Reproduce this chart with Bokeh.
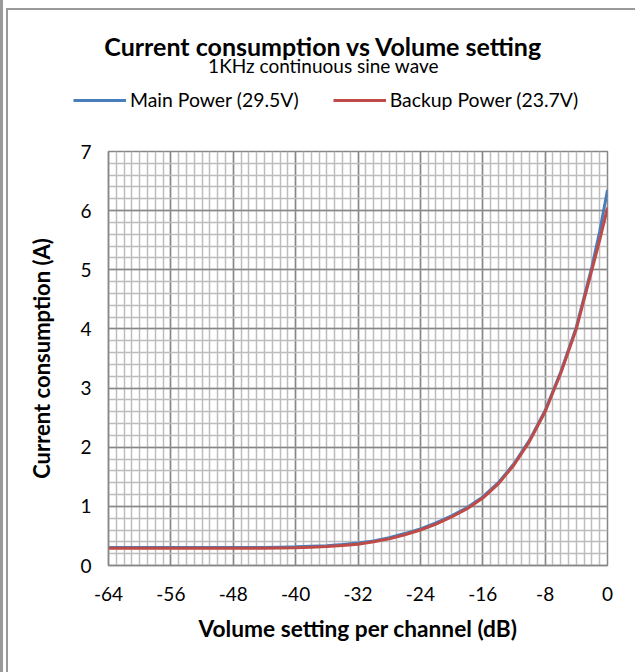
from bokeh.plotting import figure
from bokeh.models import (Range1d, SingleIntervalTicker, Label, Legend, LegendItem,
                          PrintfTickFormatter)
from bokeh.embed import file_html
from bokeh.resources import INLINE

# ---- data ----
volume_db = [-64, -62, -60, -58, -56, -54, -52, -50, -48, -46, -44, -42, -40,
             -38, -36, -34, -32, -30, -28, -26, -24, -22, -20, -18, -16, -14,
             -12, -10, -8, -6, -4, -2, -1, 0]
main_power_a = [0.305, 0.305, 0.305, 0.305, 0.305, 0.305, 0.305, 0.305, 0.305,
                0.305, 0.305, 0.31, 0.315, 0.325, 0.335, 0.355, 0.38, 0.415,
                0.47, 0.54, 0.62, 0.72, 0.84, 0.98, 1.16, 1.40, 1.72, 2.12,
                2.62, 3.27, 4.03, 5.05, 5.65, 6.35]
backup_power_a = [0.29, 0.29, 0.29, 0.29, 0.29, 0.29, 0.29, 0.29, 0.29, 0.29,
                  0.29, 0.295, 0.30, 0.31, 0.32, 0.34, 0.36, 0.40, 0.45, 0.52,
                  0.60, 0.70, 0.82, 0.96, 1.14, 1.38, 1.70, 2.10, 2.60, 3.25,
                  4.00, 5.00, 5.50, 6.05]
series_names = ["Main Power (29.5V)", "Backup Power (23.7V)"]
series_colors = ["#4a7ebb", "#be4b48"]
title_text = "Current consumption vs Volume setting"
subtitle_text = "1KHz continuous sine wave"
x_title = "Volume setting per channel (dB)"
y_title = "Current consumption (A)"

FONT = "Lato"
MAJOR = "#878787"
MINOR = "#bdbdbd"
FRAME_GRAY = "#9a9a9a"
W = 635
TOP_H = 139
MAIN_H = 672 - TOP_H

# ---- header figure: title, subtitle, legend (pixel-scaled ranges) ----
top = figure(width=W, height=TOP_H, output_backend="svg", toolbar_location=None,
             x_range=Range1d(0, W), y_range=Range1d(0, TOP_H),
             x_axis_location=None, y_axis_location=None,
             min_border=0, min_border_left=0, min_border_right=0,
             min_border_top=0, min_border_bottom=0)
top.grid.visible = False
top.outline_line_color = None
top.background_fill_alpha = 0
top.border_fill_alpha = 0
top.styles = {"box-shadow": f"inset 3px 0 0 0 {FRAME_GRAY}, inset 6px 8px 0 0 #ffffff, "
                            f"inset 8px 10px 0 0 {FRAME_GRAY}"}

top.add_layout(Label(x=323, y=94, text=title_text, text_font=FONT,
                     text_font_style="bold", text_font_size="25px",
                     text_align="center", text_baseline="middle",
                     text_color="#000000"))
top.add_layout(Label(x=323, y=74, text=subtitle_text, text_font=FONT,
                     text_font_size="19px", text_align="center",
                     text_baseline="middle", text_color="#000000"))

# legend keys: same series, hidden in the header (legend still draws their keys)
k_main = top.line(volume_db, main_power_a, line_color=series_colors[0],
                  line_width=3, visible=False)
k_backup = top.line(volume_db, backup_power_a, line_color=series_colors[1],
                    line_width=3, visible=False)
legend = Legend(items=[LegendItem(label=series_names[0], renderers=[k_main]),
                       LegendItem(label=series_names[1], renderers=[k_backup])],
                orientation="horizontal", location=(73, 28),
                glyph_width=53, glyph_height=20, label_height=20,
                label_standoff=4, spacing=34, padding=0, margin=0,
                border_line_color=None, background_fill_alpha=0,
                label_text_font=FONT, label_text_font_size="19.4px",
                label_text_color="#000000", click_policy="none")
top.add_layout(legend, "center")

# ---- main chart ----
p = figure(width=W, height=MAIN_H, output_backend="svg", toolbar_location=None,
           x_range=Range1d(-64, 0), y_range=Range1d(0, 7),
           min_border_left=108, min_border_right=28, min_border_top=12,
           min_border_bottom=107, background_fill_color="white",
           border_fill_alpha=0)
p.styles = {"box-shadow": f"inset 3px 0 0 0 {FRAME_GRAY}, inset 6px 0 0 0 #ffffff, "
                          f"inset 8px 0 0 0 {FRAME_GRAY}"}

p.xaxis.ticker = SingleIntervalTicker(interval=8, num_minor_ticks=8)
p.yaxis.ticker = SingleIntervalTicker(interval=1, num_minor_ticks=5)
p.xaxis.formatter = PrintfTickFormatter(format="%d")
p.yaxis.formatter = PrintfTickFormatter(format="%d")

for g in (p.xgrid, p.ygrid):
    g.grid_line_color = MAJOR
    g.grid_line_width = 1.5
    g.minor_grid_line_color = MINOR
    g.minor_grid_line_width = 1.5

p.outline_line_color = MAJOR
p.outline_line_width = 1.5

for ax in (p.xaxis, p.yaxis):
    ax.axis_line_color = MAJOR
    ax.axis_line_width = 1.5
    ax.major_tick_line_color = None
    ax.minor_tick_line_color = None
    ax.major_tick_in = 0
    ax.major_tick_out = 0
    ax.minor_tick_in = 0
    ax.minor_tick_out = 0
    ax.major_label_text_font = FONT
    ax.major_label_text_font_size = "19px"
    ax.major_label_text_color = "#000000"
    ax.axis_label_text_font = FONT
    ax.axis_label_text_font_style = "bold"
    ax.axis_label_text_color = "#000000"

p.xaxis.axis_label_text_font_size = "22.7px"
p.yaxis.axis_label_text_font_size = "22px"
p.xaxis.major_label_standoff = 21
p.xaxis.axis_label = x_title
p.xaxis.axis_label_standoff = 11
p.yaxis.major_label_standoff = 17
p.yaxis.axis_label = y_title
p.yaxis.axis_label_standoff = 22

p.line(volume_db, main_power_a, line_color=series_colors[0], line_width=3)
p.line(volume_db, backup_power_a, line_color=series_colors[1], line_width=3)

open("out.html", "w").write(file_html([top, p], INLINE))
